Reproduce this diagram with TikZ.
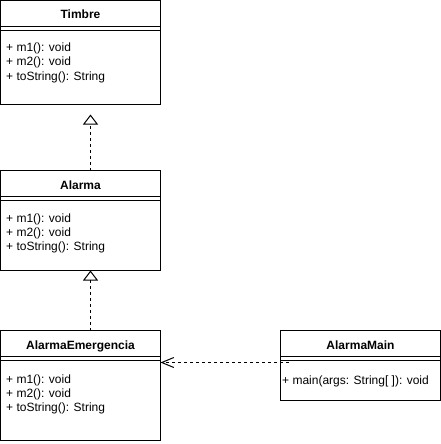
\documentclass[tikz,border=0pt]{standalone}
\usepackage{fontspec}
\setmainfont{Liberation Sans}
\usetikzlibrary{arrows.meta}
\begin{document}
\begin{tikzpicture}[x=1pt,y=-1pt,
  classbox/.style={draw, line width=1pt, minimum width=160pt, inner sep=0pt, outer sep=0pt, anchor=north west},
  classtitle/.style={font=\fontsize{12}{14}\selectfont\bfseries, anchor=base, inner sep=0pt},
  member/.style={font=\fontsize{12}{14}\selectfont, anchor=base west, inner sep=0pt},
  sepline/.style={line width=1pt},
  realize/.style={line width=1pt, dash pattern=on 3pt off 3pt, -{Triangle[open,length=10pt,width=15pt]}},
  depend/.style={line width=1pt, dash pattern=on 3pt off 3pt, -{Straight Barb[length=12pt,width=10pt]}}
]
\useasboundingbox (0,0) rectangle (441,444);

% Timbre
\node[classbox, minimum height=104pt] (timbre) at (0.5,0.5) {};
\node[classtitle] (timbreT) at (80.5,19) {Timbre};
\draw[sepline] ([yshift=-26pt]timbre.north west) -- ([yshift=-26pt]timbre.north east);
\draw[sepline] ([yshift=-30pt]timbre.north west) -- ([yshift=-30pt]timbre.north east);
\node[member] (timbreM1) at (6,52) {+ m1(): void};
\node[member] (timbreM2) at (6,66) {+ m2(): void};
\node[member] (timbreM3) at (6,80) {+ toString(): String};

% Alarma
\node[classbox, minimum height=100pt] (alarma) at (0.5,170.5) {};
\node[classtitle] (alarmaT) at (80.5,189) {Alarma};
\draw[sepline] ([yshift=-26pt]alarma.north west) -- ([yshift=-26pt]alarma.north east);
\draw[sepline] ([yshift=-30pt]alarma.north west) -- ([yshift=-30pt]alarma.north east);
\node[member] (alarmaM1) at (6,222) {+ m1(): void};
\node[member] (alarmaM2) at (6,236) {+ m2(): void};
\node[member] (alarmaM3) at (6,250) {+ toString(): String};

% AlarmaEmergencia
\node[classbox, minimum height=110pt] (emerg) at (0.5,330.5) {};
\node[classtitle] (emergT) at (80.5,349) {AlarmaEmergencia};
\draw[sepline] ([yshift=-26pt]emerg.north west) -- ([yshift=-26pt]emerg.north east);
\draw[sepline] ([yshift=-30pt]emerg.north west) -- ([yshift=-30pt]emerg.north east);
\node[member] (emergM1) at (6,383) {+ m1(): void};
\node[member] (emergM2) at (6,397) {+ m2(): void};
\node[member] (emergM3) at (6,411) {+ toString(): String};

% AlarmaMain
\node[classbox, minimum height=70pt] (main) at (280.5,330.5) {};
\node[classtitle] (mainT) at (360.5,349) {AlarmaMain};
\draw[sepline] ([yshift=-26pt]main.north west) -- ([yshift=-26pt]main.north east);
\draw[sepline] ([yshift=-30pt]main.north west) -- ([yshift=-30pt]main.north east);
\node[member] (mainM1) at (282,384) {+ main(args: String[ ]): void};

% connectors
\coordinate (timbreEnd) at (90.5,114.5);
\draw[realize] ([xshift=10pt]alarma.north) -- (timbreEnd);
\draw[realize] ([xshift=10pt]emerg.north) -- ([xshift=10pt]alarma.south);
\coordinate (depStart) at ([xshift=8pt,yshift=-32pt]main.north west);
\draw[depend] (depStart) -- (depStart -| emerg.east);
\end{tikzpicture}
\end{document}
